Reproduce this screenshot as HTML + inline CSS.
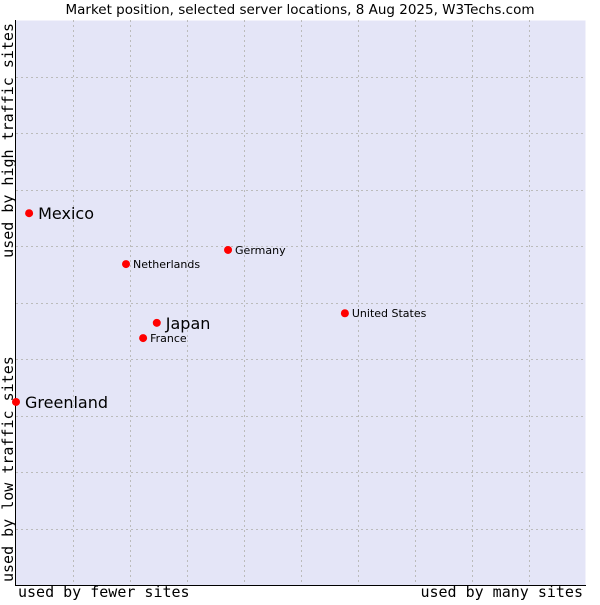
<!DOCTYPE html>
<html><head><meta charset="utf-8"><style>
body{margin:0;background:#fff;width:600px;height:600px;overflow:hidden}
svg text{font-family:"DejaVu Sans","Liberation Sans",sans-serif}
.mono{font-family:"DejaVu Sans Mono","Liberation Mono",monospace}
</style></head><body>
<svg id="chart" width="600" height="600" xmlns="http://www.w3.org/2000/svg">
<text x="300" y="14" text-anchor="middle" font-size="13.5" fill="#000">Market position, selected server locations, 8 Aug 2025, W3Techs.com</text>
<rect x="15.5" y="20.5" width="570" height="565" fill="#e4e5f7" stroke="none"/>
<g id="grid"></g>
<line x1="15.5" y1="20" x2="15.5" y2="586" stroke="#000"/>
<line x1="15" y1="585.5" x2="586" y2="585.5" stroke="#000"/>
<g id="points"></g>
<text class="mono" x="18" y="597" font-size="15" fill="#000">used by fewer sites</text>
<text class="mono" x="583" y="597" text-anchor="end" font-size="15" fill="#000">used by many sites</text>
<text class="mono" transform="translate(13,23) rotate(-90)" text-anchor="end" font-size="15" fill="#000">used by high traffic sites</text>
<text class="mono" transform="translate(13,582) rotate(-90)" font-size="15" fill="#000">used by low traffic sites</text>
</svg>
<script>
const names=["Mexico","Netherlands","Germany","United States","Japan","France","Greenland"];
const xVals=[2.3,19.3,37.2,57.7,24.7,22.3,0];
const yVals=[65.8,56.8,59.3,48.1,46.4,43.7,32.4];
const bigLabel=[true,false,false,false,true,false,true];
const NS="http://www.w3.org/2000/svg";
const X0=16,X1=586,Y0=585,Y1=20;
const sx=v=>X0+v/100*(X1-X0);
const sy=v=>Y0-v/100*(Y0-Y1);
const grid=document.getElementById('grid');
for(let i=1;i<10;i++){
  const vx=Math.round(sx(i*10))+0.5;
  const l=document.createElementNS(NS,'line');
  
  
  l.setAttribute('x1',vx);l.setAttribute('x2',vx);l.setAttribute('y1',Y1);l.setAttribute('y2',Y0);
  l.setAttribute('stroke','#bbbbbb');l.setAttribute('stroke-dasharray','2,3');
  grid.appendChild(l);
  const vy=Math.round(sy(i*10))+0.5;
  const h=document.createElementNS(NS,'line');
  
  
  h.setAttribute('x1',X0);h.setAttribute('x2',X1);h.setAttribute('y1',vy);h.setAttribute('y2',vy);
  h.setAttribute('stroke','#bbbbbb');h.setAttribute('stroke-dasharray','2,3');
  grid.appendChild(h);
}
const pts=document.getElementById('points');
names.forEach((n,i)=>{
  const cx=sx(xVals[i]),cy=sy(yVals[i]);
  const c=document.createElementNS(NS,'circle');
  
  
  c.setAttribute('cx',cx);c.setAttribute('cy',cy);c.setAttribute('r',4);c.setAttribute('fill','#f00');
  pts.appendChild(c);
  const t=document.createElementNS(NS,'text');
  
  
  t.setAttribute('x',cx+(bigLabel[i]?9:7));
  t.setAttribute('y',cy+(bigLabel[i]?6:4));
  t.setAttribute('font-size',bigLabel[i]?16:11);
  t.setAttribute('fill','#000');
  t.textContent=n;
  pts.appendChild(t);
});
</script>
</body></html>
